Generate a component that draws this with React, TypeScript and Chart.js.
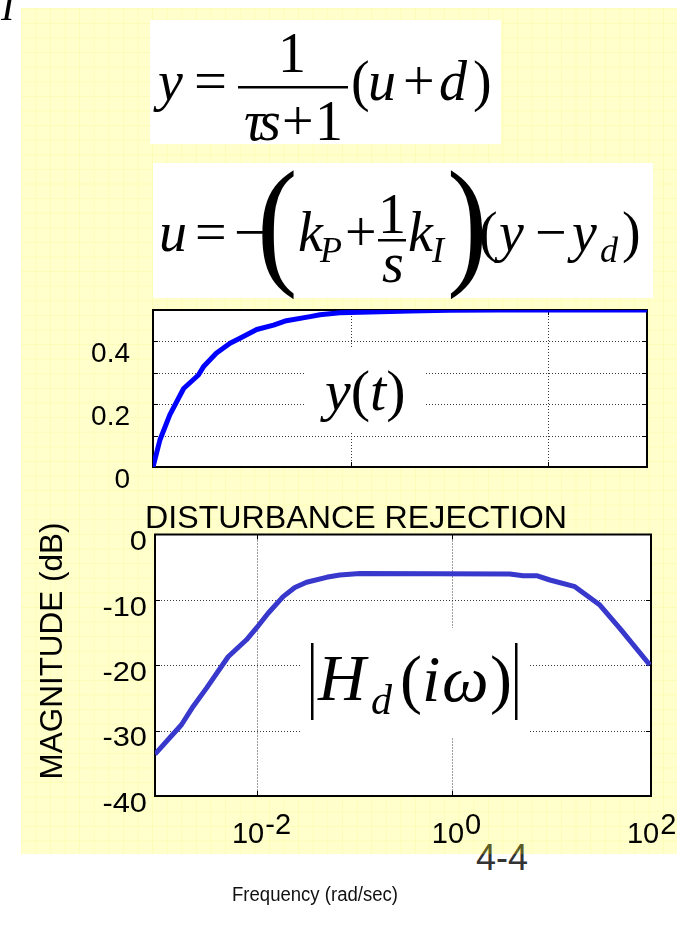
import React, { useEffect, useRef } from "react";
import { Chart, registerables } from "chart.js";

Chart.register(...registerables);

const SANS = '"Liberation Sans", Arial, Helvetica, sans-serif';
const SERIF = '"Liberation Serif", "Times New Roman", Times, serif';

// Closed-loop step response y(t)
const stepTime = [0, 0.07, 0.17, 0.31, 0.46, 0.51, 0.64, 0.78, 0.88, 1.05, 1.22, 1.35, 1.59, 1.69, 1.89, 2.2, 2.6, 3.0, 3.5, 4.0, 5.0];
const stepOutput = [0, 0.086, 0.166, 0.25, 0.293, 0.319, 0.362, 0.394, 0.41, 0.438, 0.452, 0.466, 0.479, 0.485, 0.491, 0.494, 0.497, 0.499, 0.5, 0.5, 0.5];
const stepGridTime = [2, 4];
const stepGridOutput = [0.1, 0.2, 0.3, 0.4];
const stepTickValues = [0, 0.2, 0.4];
const stepTickLabels = ["0", "0.2", "0.4"];

// Disturbance rejection magnitude |Hd(iw)|
const frequency = [0.00091, 0.0017, 0.00224, 0.00307, 0.00512, 0.00789, 0.01, 0.01315, 0.01875, 0.0247, 0.0326, 0.0522, 0.0714, 0.1146, 3.96, 5.42, 7.45, 10.2, 18.4, 33.2, 53.2, 108];
const magnitudeDb = [-33.6, -29.1, -26.3, -23.5, -18.7, -16.1, -14.3, -12.05, -9.5, -8.1, -7.3, -6.55, -6.2, -5.95, -6.05, -6.3, -6.3, -6.96, -7.98, -10.8, -14.35, -19.96];
const freqGrid = [0.01, 1];
const freqTickValues = [0.01, 1, 100];
const freqTickExponents = ["-2", "0", "2"];
const magGrid = [-10, -20, -30];
const magTickValues = [0, -10, -20, -30, -40];
const magTickLabels = ["0", "-10", "-20", "-30", "-40"];

type FrameOpts = { gridX: number[]; gridY: number[]; frameWidth: number; tickLen: number };

// White plot face, dotted grid, inner tick marks and the black box
const plotFrame = (o: FrameOpts) => ({
  id: "plotFrame",
  beforeDatasetsDraw(chart: any) {
    const { ctx, chartArea: a, scales } = chart;
    ctx.save();
    ctx.fillStyle = "#ffffff";
    ctx.fillRect(a.left, a.top, a.right - a.left, a.bottom - a.top);
    const xs = o.gridX.map((v) => Math.round(scales.x.getPixelForValue(v)) + 0.5);
    const ys = o.gridY.map((v) => Math.round(scales.y.getPixelForValue(v)) + 0.5);
    ctx.lineWidth = 1;
    ctx.strokeStyle = "#3a3a3a";
    ctx.setLineDash([1, 2]);
    ctx.beginPath();
    xs.forEach((x) => { ctx.moveTo(x, a.top); ctx.lineTo(x, a.bottom); });
    ys.forEach((y) => { ctx.moveTo(a.left, y); ctx.lineTo(a.right, y); });
    ctx.stroke();
    ctx.setLineDash([]);
    ctx.strokeStyle = "#000";
    ctx.beginPath();
    xs.forEach((x) => {
      ctx.moveTo(x, a.bottom); ctx.lineTo(x, a.bottom - o.tickLen);
      ctx.moveTo(x, a.top); ctx.lineTo(x, a.top + o.tickLen);
    });
    ys.forEach((y) => {
      ctx.moveTo(a.left, y); ctx.lineTo(a.left + o.tickLen, y);
      ctx.moveTo(a.right, y); ctx.lineTo(a.right - o.tickLen, y);
    });
    ctx.stroke();
    ctx.lineWidth = o.frameWidth;
    ctx.strokeRect(a.left, a.top, a.right - a.left, a.bottom - a.top);
    ctx.restore();
  },
});

const stepLabelsPlugin = {
  id: "stepLabels",
  afterDraw(chart: any) {
    const { ctx, chartArea: a, scales } = chart;
    ctx.save();
    ctx.font = `28px ${SANS}`;
    ctx.fillStyle = "#000";
    ctx.textAlign = "right";
    ctx.textBaseline = "middle";
    stepTickValues.forEach((v, i) => {
      ctx.fillText(stepTickLabels[i], a.left - 23, scales.y.getPixelForValue(v) + 13);
    });
    ctx.restore();
  },
};

const magLabelsPlugin = {
  id: "magLabels",
  afterDraw(chart: any) {
    const { ctx, chartArea: a, scales } = chart;
    ctx.save();
    ctx.fillStyle = "#000";
    ctx.font = `28px ${SANS}`;
    ctx.textBaseline = "middle";
    ctx.textAlign = "right";
    magTickValues.forEach((v, i) => {
      ctx.save();
      ctx.translate(a.left - 8, scales.y.getPixelForValue(v) + 8);
      ctx.scale(1.1, 1);
      ctx.fillText(magTickLabels[i], 0, 0);
      ctx.restore();
    });
    ctx.textAlign = "left";
    ctx.textBaseline = "alphabetic";
    ctx.font = `29px ${SANS}`;
    freqTickValues.forEach((v, i) => {
      const px = scales.x.getPixelForValue(v);
      const exp = freqTickExponents[i];
      const wb = ctx.measureText("10").width;
      const we = ctx.measureText(exp).width;
      const start = px + 5 - (wb + we + 1) / 2;
      ctx.fillText("10", start, a.bottom + 47);
      ctx.fillText(exp, start + wb + 1, a.bottom + 38);
    });
    ctx.restore();
  },
};

const baseScale = {
  ticks: { display: false },
  grid: { display: false, drawTicks: false },
  border: { display: false },
};

function buildStepChart(): any {
  return {
    type: "line",
    data: {
      datasets: [
        {
          data: stepTime.map((t, i) => ({ x: t, y: stepOutput[i] })),
          borderColor: "#0000ff",
          borderWidth: 5,
          pointRadius: 0,
          tension: 0,
          borderJoinStyle: "round",
          borderCapStyle: "round",
        },
      ],
    },
    options: {
      responsive: false,
      animation: false,
      devicePixelRatio: 1,
      events: [],
      layout: { padding: { left: 153, top: 15, right: 45, bottom: 33 } },
      plugins: { legend: { display: false }, tooltip: { enabled: false }, title: { display: false } },
      scales: {
        x: { ...baseScale, type: "linear", min: 0, max: 5 },
        y: { ...baseScale, type: "linear", min: 0, max: 0.5 },
      },
    },
    plugins: [plotFrame({ gridX: stepGridTime, gridY: stepGridOutput, frameWidth: 2, tickLen: 5 }), stepLabelsPlugin],
  };
}

function buildMagChart(): any {
  return {
    type: "line",
    data: {
      datasets: [
        {
          data: frequency.map((f, i) => ({ x: f, y: magnitudeDb[i] })),
          borderColor: "#3838cc",
          borderWidth: 5,
          pointRadius: 0,
          tension: 0,
          borderJoinStyle: "round",
        },
      ],
    },
    options: {
      responsive: false,
      animation: false,
      devicePixelRatio: 1,
      events: [],
      layout: { padding: { left: 155, top: 34.5, right: 41, bottom: 64 } },
      plugins: { legend: { display: false }, tooltip: { enabled: false }, title: { display: false } },
      scales: {
        x: { ...baseScale, type: "logarithmic", min: 0.00091, max: 111 },
        y: { ...baseScale, type: "linear", min: -40, max: 0 },
      },
    },
    plugins: [plotFrame({ gridX: freqGrid, gridY: magGrid, frameWidth: 2, tickLen: 5 }), magLabelsPlugin],
  };
}

function ChartCanvas({ top, height, build }: { top: number; height: number; build: () => any }) {
  const ref = useRef<HTMLCanvasElement>(null);
  useEffect(() => {
    const chart = new Chart(ref.current as HTMLCanvasElement, build());
    return () => chart.destroy();
  }, []);
  return (
    <canvas
      ref={ref}
      width={692}
      height={height}
      style={{ position: "absolute", left: 0, top, width: 692, height, display: "block" }}
    />
  );
}

function Sheet() {
  return (
    <svg width={692} height={932} style={{ position: "absolute", left: 0, top: 0 }}>
      <defs>
        <pattern id="sheetGrid" x={20.7} y={8.3} width={14.6} height={14.6} patternUnits="userSpaceOnUse">
          <path d="M0 0.5 H14.6 M0.5 0 V14.6" stroke="rgba(225,225,0,0.1)" strokeWidth={1} fill="none" />
        </pattern>
      </defs>
      <text x={476} y={870} fontFamily={SANS} fontSize={36} fill="#333">4-4</text>
      <rect x={21} y={8} width={656} height={846} fill="rgba(255,255,0,0.2)" />
      <rect x={21} y={8} width={656} height={846} fill="url(#sheetGrid)" />
    </svg>
  );
}

function Annotations() {
  return (
    <svg
      width={692}
      height={932}
      style={{ position: "absolute", left: 0, top: 0, pointerEvents: "none" }}
      fontFamily={SERIF}
    >
      <text x={1} y={20} fontSize={40} fontStyle="italic">I</text>

      {/* plant: y = 1/(τs+1) (u + d) */}
      <rect x={150} y={20} width={351} height={124} fill="#fff" />
      <g fontSize={56}>
        <text x={158} y={100} fontStyle="italic">y</text>
        <text x={194} y={100} textLength={33} lengthAdjust="spacingAndGlyphs">=</text>
        <text x={292} y={72} textAnchor="middle">1</text>
        <rect x={238} y={86} width={110} height={2.5} fill="#000" />
        <text x={244} y={140} fontStyle="italic">τ</text>
        <text x={259} y={140} fontStyle="italic">s</text>
        <text x={282} y={140}>+</text>
        <text x={315} y={140}>1</text>
        <text x={351} y={100}>(</text>
        <text x={368} y={100} fontStyle="italic">u</text>
        <text x={403} y={100}>+</text>
        <text x={439} y={100} fontStyle="italic">d</text>
        <text x={473} y={100}>)</text>
      </g>

      {/* PI control law */}
      <rect x={153} y={163} width={500} height={135} fill="#fff" />
      <g fontSize={56}>
        <text x={159} y={251} fontStyle="italic">u</text>
        <text x={195} y={251}>=</text>
        <text x={234} y={251}>−</text>
        <g transform="translate(257,269) scale(0.85,1)">
          <text x={0} y={0} fontSize={143}>(</text>
        </g>
        <text x={298} y={251} fontStyle="italic">k</text>
        <text x={320} y={262} fontSize={36} fontStyle="italic">P</text>
        <text x={345} y={251}>+</text>
        <text x={392} y={233} textAnchor="middle">1</text>
        <rect x={378} y={239} width={28} height={2.5} fill="#000" />
        <text x={393} y={282} fontStyle="italic" textAnchor="middle">s</text>
        <text x={408} y={251} fontStyle="italic">k</text>
        <text x={432} y={262} fontSize={36} fontStyle="italic">I</text>
        <g transform="translate(447,269) scale(0.85,1)">
          <text x={0} y={0} fontSize={143}>)</text>
        </g>
        <text x={479} y={251}>(</text>
        <text x={499} y={251} fontStyle="italic">y</text>
        <text x={535} y={251}>−</text>
        <text x={572} y={251} fontStyle="italic">y</text>
        <text x={600} y={262} fontSize={36} fontStyle="italic">d</text>
        <text x={622} y={251}>)</text>
      </g>

      {/* step response tag */}
      <rect x={306} y={348} width={120} height={84} fill="#fff" />
      <text x={325} y={410} fontSize={58}>
        <tspan fontStyle="italic">y</tspan>(<tspan fontStyle="italic">t</tspan>)
      </text>

      {/* magnitude plot headings */}
      <text x={145} y={528} fontFamily={SANS} fontSize={31} textLength={422} lengthAdjust="spacingAndGlyphs">
        DISTURBANCE REJECTION
      </text>
      <text
        x={0}
        y={0}
        fontFamily={SANS}
        fontSize={31}
        textAnchor="middle"
        textLength={257}
        lengthAdjust="spacingAndGlyphs"
        transform="translate(62,651) rotate(-90)"
      >
        MAGNITUDE (dB)
      </text>

      {/* |Hd(iω)| tag */}
      <rect x={300} y={628} width={230} height={109} fill="#fff" />
      <rect x={311} y={643} width={2.5} height={77} fill="#000" />
      <rect x={515} y={643} width={2.5} height={77} fill="#000" />
      <text x={318} y={700} fontSize={66} fontStyle="italic">H</text>
      <text x={371} y={714} fontSize={42} fontStyle="italic">d</text>
      <text x={400} y={701} fontSize={66}>(</text>
      <text x={422} y={701} fontSize={66} fontStyle="italic">i</text>
      <text x={442} y={701} fontSize={66} fontStyle="italic">ω</text>
      <text x={490} y={701} fontSize={66}>)</text>

      <text x={232} y={901} fontFamily={SANS} fontSize={19.5} fill="#111" textLength={166} lengthAdjust="spacingAndGlyphs">
        Frequency (rad/sec)
      </text>
    </svg>
  );
}

export default function App() {
  return (
    <div style={{ position: "absolute", left: 0, top: 0, width: 692, height: 932, background: "#fff", overflow: "hidden" }}>
      <Sheet />
      <ChartCanvas top={295} height={205} build={buildStepChart} />
      <ChartCanvas top={500} height={360} build={buildMagChart} />
      <Annotations />
    </div>
  );
}
